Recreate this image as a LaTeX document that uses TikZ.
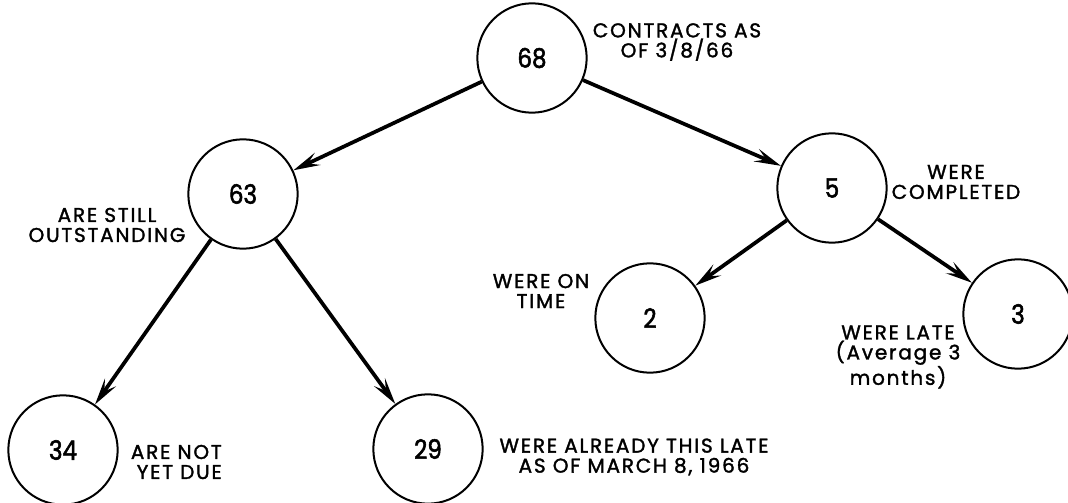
\documentclass[tikz,border=0pt]{standalone}
\usepackage{fontspec}
\setmainfont{Poppins}
\newfontfamily\lblfont[LetterSpace=9,FakeBold=1.6]{Poppins}
\newfontfamily\numfont[FakeStretch=0.86,FakeBold=2]{Poppins}
\usetikzlibrary{arrows.meta}
\begin{document}
\begin{tikzpicture}[x=0.75pt,y=-0.75pt,
  num/.style={circle, draw, line width=1.5pt, minimum size=82pt, inner sep=0pt,
              font=\numfont\fontsize{20}{20}\selectfont},
  lbl/.style={font=\lblfont\fontsize{15}{15}\selectfont, inner sep=0pt, align=center},
  arr/.style={-{Stealth[length=20pt,width=10pt,inset=8pt]}, line width=2.8pt}]
\useasboundingbox (0,0) rectangle (1068,503);
\node[num] (n68) at (532,58)  {68};
\node[num] (n63) at (243,194) {63};
\node[num] (n5)  at (832,188) {5};
\node[num] (n2)  at (650,318) {2};
\node[num] (n3)  at (1018,314) {3};
\node[num] (n34) at (63,450)  {34};
\node[num] (n29) at (428,449) {29};

\draw[arr] (n68) -- (n63);
\draw[arr] (n68) -- (n5);
\draw[arr] (n63) -- (n34);
\draw[arr] (n63) -- (n29);
\draw[arr] (n5) -- (n2);
\draw[arr] (n5) -- (n3);

\node[lbl] (t68) at (677,42) {CONTRACTS AS\\OF 3/8/66};
\node[lbl] (t5)  at (956,182) {WERE\\COMPLETED};
\node[lbl] (t63) at (107,225) {ARE STILL\\OUTSTANDING};
\node[lbl] (t2)  at (541,291) {WERE ON\\TIME};
\node[lbl] (t3)  at (898,357) {WERE LATE\\(Average 3\\months)};
\node[lbl, anchor=east, align=right] (t34) at (222,462) {ARE NOT\\YET DUE};
\node[lbl] (t29) at (634,457) {WERE ALREADY THIS LATE\\AS OF MARCH 8, 1966};
\end{tikzpicture}
\end{document}
